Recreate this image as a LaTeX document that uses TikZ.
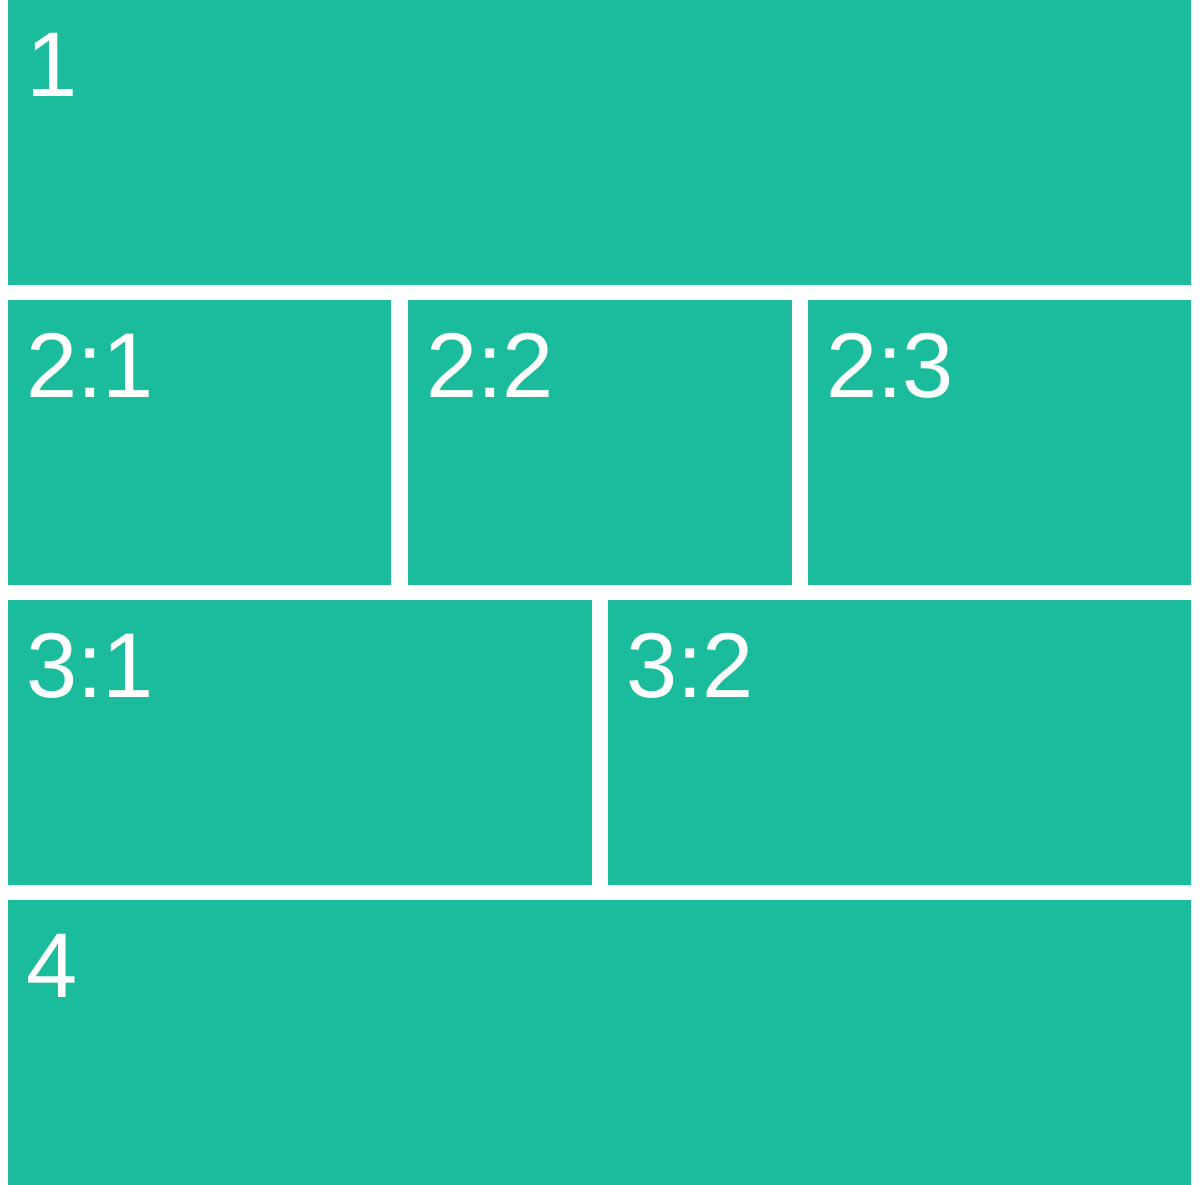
\documentclass[tikz,border=0pt]{standalone}
\usepackage{fontspec}
\setmainfont{Liberation Sans}
\definecolor{teal1}{HTML}{1ABC9C}
\begin{document}
\begin{tikzpicture}[x=1pt,y=1pt,
  box/.style={fill=teal1, draw=none, inner sep=0pt, outer sep=0pt, anchor=north west},
  lbl/.style={text=white, inner sep=0pt, anchor=base west, font=\fontsize{92}{92}\selectfont}]
\fill[white] (0,0) rectangle (1200,1185);
\useasboundingbox (0,0) rectangle (1200,1185);
% boxes: top-left at (x, 1185 - ytop)
\node[box, minimum width=1183.5, minimum height=285] (b1) at (7.5,1185) {};
\node[box, minimum width=383.5, minimum height=285] (b21) at (7.5,885) {};
\node[box, minimum width=383.5, minimum height=285] (b22) at (408,885) {};
\node[box, minimum width=383, minimum height=285] (b23) at (808,885) {};
\node[box, minimum width=584, minimum height=285] (b31) at (7.5,585) {};
\node[box, minimum width=583, minimum height=285] (b32) at (608,585) {};
\node[box, minimum width=1183.5, minimum height=285] (b4) at (7.5,285) {};
% labels
\node[lbl] (t1) at ([shift={(18.5,-97)}]b1.north west) {1};
\node[lbl] (t21) at ([shift={(18.5,-98)}]b21.north west) {2:1};
\node[lbl] (t22) at ([shift={(18,-98)}]b22.north west) {2:2};
\node[lbl] (t23) at ([shift={(18,-98)}]b23.north west) {2:3};
\node[lbl] (t31) at ([shift={(18.5,-98)}]b31.north west) {3:1};
\node[lbl] (t32) at ([shift={(18,-98)}]b32.north west) {3:2};
\node[lbl] (t4) at ([shift={(18.5,-98)}]b4.north west) {4};
\end{tikzpicture}
\end{document}
